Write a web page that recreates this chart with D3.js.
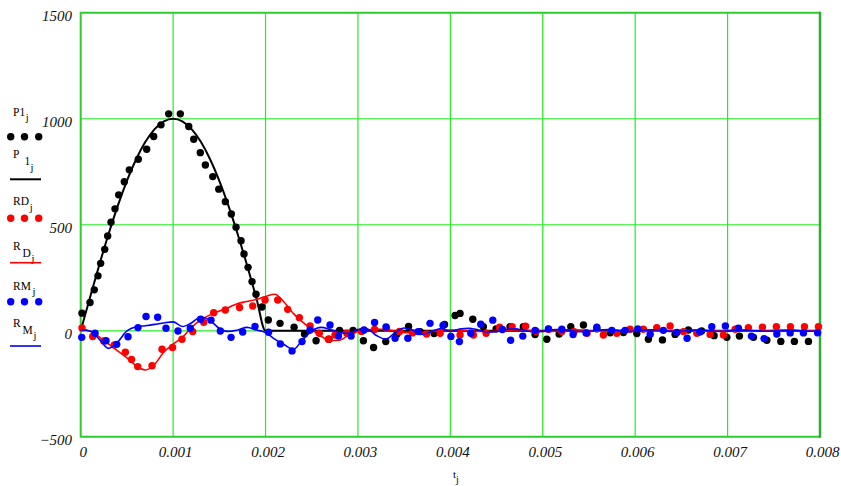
<!DOCTYPE html>
<html><head><meta charset="utf-8">
<script src="https://cdn.jsdelivr.net/npm/d3@7"></script>
<style>
html,body{margin:0;padding:0;background:#fff;}
svg{display:block;}
</style></head>
<body>
<svg id="chart" width="841" height="486"></svg>
<script>
// ---- tick labels ----
const xTicks = [0,0.001,0.002,0.003,0.004,0.005,0.006,0.007,0.008];
const xTickLabels = ["0","0.001","0.002","0.003","0.004","0.005","0.006","0.007","0.008"];
const yTicks = [-500,0,500,1000,1500];
const yTickLabels = ["\u2212500","0","500","1000","1500"];

// ---- dotted (measured) series: positions of the dots, t in s ----
const p1T = [0.000014,0.000101,0.000147,0.000187,0.000216,0.00026,0.000292,0.000328,0.000371,0.000411,0.000472,0.000526,0.000623,0.000714,0.00079,0.000869,0.000952,0.001078,0.001169,0.001223,0.001294,0.001349,0.001429,0.001494,0.001565,0.00163,0.001681,0.001735,0.001767,0.001811,0.001854,0.001897,0.001962,0.00203,0.002157,0.002309,0.002422,0.002547,0.002687,0.002801,0.002947,0.003059,0.003169,0.003301,0.003423,0.003548,0.003672,0.003824,0.003937,0.004051,0.004105,0.004243,0.004357,0.004495,0.004646,0.00479,0.004917,0.005044,0.005177,0.005303,0.00544,0.005585,0.005729,0.005873,0.006018,0.006143,0.006295,0.006432,0.006576,0.006719,0.006854,0.006992,0.007128,0.00728,0.007425,0.007576,0.007723,0.007875];
const p1V = [83,133,193,259,318,384,447,512,575,641,703,759,809,856,916,971,1023,1023,963,903,840,782,727,668,609,551,488,425,362,299,232,172,112,51,35,17,-15,-47,-40,2,2,-47,-79,-51,-15,20,-4,-13,30,72,82,54,19,9,19,19,-18,-40,-15,19,27,9,-9,-8,-13,-40,-43,-17,4,-1,-23,-31,-25,-31,-45,-50,-50,-50];

const rdT = [0.000014,0.00013,0.000249,0.000364,0.000483,0.00055,0.000617,0.000772,0.00088,0.000994,0.001096,0.001212,0.001331,0.001439,0.001565,0.001719,0.001862,0.001995,0.002132,0.00224,0.002366,0.002482,0.002582,0.00268,0.002752,0.002879,0.003039,0.00318,0.003308,0.00345,0.003591,0.003743,0.003889,0.004105,0.004249,0.004387,0.004533,0.004668,0.004814,0.004928,0.005063,0.005206,0.005339,0.00548,0.005656,0.005801,0.005945,0.006089,0.006234,0.006378,0.006522,0.006667,0.006811,0.006955,0.007082,0.007225,0.007377,0.007528,0.00768,0.007832,0.007983];
const rdV = [13,-27,-48,-67,-101,-135,-169,-165,-87,-79,-40,-4,40,85,98,110,117,145,145,101,62,23,-12,-40,-20,-12,-3,6,12,-3,-10,-15,-12,-20,-20,-12,17,19,21,-3,7,-4,-4,-12,-20,-12,7,7,15,23,-4,-12,-17,-20,7,15,17,19,19,19,19];

const rmT = [0.000011,0.000155,0.000274,0.00039,0.000512,0.00062,0.000707,0.000833,0.000923,0.001053,0.001186,0.001297,0.00141,0.001511,0.001627,0.001753,0.001886,0.002033,0.00216,0.002287,0.002395,0.002482,0.002565,0.002698,0.00279,0.002926,0.003066,0.00318,0.003304,0.003402,0.00354,0.003651,0.00378,0.003921,0.004006,0.004098,0.004221,0.004329,0.004459,0.004563,0.004652,0.004784,0.004917,0.005061,0.005206,0.005328,0.005469,0.005585,0.005747,0.005891,0.006028,0.006162,0.006305,0.006451,0.006562,0.006699,0.006829,0.006976,0.007117,0.007258,0.007395,0.007533,0.007677,0.007821,0.007974];
const rmV = [-31,-12,-47,-64,-28,15,67,64,12,-1,12,54,50,-1,-31,-6,20,-7,-62,-95,-51,4,51,27,-25,-25,4,39,18,-35,-35,-4,35,25,-27,-51,-12,31,50,6,-45,-25,1,9,7,-18,-10,17,2,2,9,-16,2,-8,-35,-6,19,23,12,-25,-37,-15,-10,-10,-9];

// ---- fitted (solid) curves, sampled every 0.0001 s ----
const fitT = d3.range(81).map(i => i * 0.0001);
const p1Fit = [0,156,309,454,588,707,809,891,951,988,1000,988,951,891,809,707,588,454,309,156,0,
  0,0,0,0,0,0,0,0,0,0,0,0,0,0,0,0,0,0,0,0,0,0,0,0,0,0,0,0,0,0,0,0,0,0,0,0,0,0,0,0,0,0,0,0,0,0,0,0,0,0,0,0,0,0,0,0,0,0,0,0];
const rdFit = [8,-1,-29,-62,-95,-128,-165,-185,-158,-100,-63,-31,16,51,75,93,110,129,138,148,162,172,136,82,42,6,-25,-47,-45,-20,-3,4,8,6,-1,-8,-9,-8,-4,3,
  4,3,0,-3,-5,-2,2,4,3,0,-3,-3,0,3,3,0,-2,-2,0,2,2,0,-2,-1,1,2,1,-1,-1,0,1,1,0,-1,0,1,1,0,0,0,0];
const rmFit = [4,-1,-39,-83,-53,-1,19,24,30,37,42,20,38,65,49,11,-3,4,16,4,-8,-39,-65,-88,-43,-1,16,6,-8,-12,6,8,-22,-39,-10,13,1,-17,-3,11,-4,
  8,12,4,-6,-4,6,9,2,-5,-3,5,7,1,-4,-3,3,6,2,-3,-2,3,5,1,-3,-2,3,4,0,-3,-1,3,3,0,-2,-1,2,3,0,-2,-1];

const colors = {p1:"#000000", rd:"#ff0000", rm:"#0000ff"};

const svg = d3.select("#chart");
const L = 80.7, R = 820, T = 12.7, B = 436.8;
const x = d3.scaleLinear().domain([0, 0.008]).range([L, R]);
const y = d3.scaleLinear().domain([-500, 1500]).range([B, T]);
const serif = "'Liberation Serif','Times New Roman',serif";

// grid
const grid = svg.append("g");
grid.selectAll("line.vx").data(xTicks.slice(1, -1)).join("line")
  .attr("x1", d => x(d)).attr("x2", d => x(d)).attr("y1", T).attr("y2", B)
  .attr("stroke", "#22ee22").attr("stroke-width", 1.2);
grid.selectAll("line.hy").data(yTicks.slice(1, -1)).join("line")
  .attr("x1", L).attr("x2", R).attr("y1", d => y(d)).attr("y2", d => y(d))
  .attr("stroke", "#22ee22").attr("stroke-width", 1.2);
// frame
svg.append("path").attr("d", `M${R},${T}H${L}V${B}H${R}`)
  .attr("fill", "none").attr("stroke", "#2fcc2f").attr("stroke-width", 2);
svg.append("line").attr("x1", R).attr("x2", R).attr("y1", T - 1).attr("y2", B + 1)
  .attr("stroke", "#33aa33").attr("stroke-width", 2.5);

// axes (labels only)
const xAxis = svg.append("g").attr("transform", `translate(2,456.5)`)
  .call(d3.axisBottom(x).tickValues(xTicks).tickSize(0).tickFormat((d, i) => xTickLabels[i]));
xAxis.select(".domain").remove();
xAxis.selectAll("text").attr("y", 0).attr("dy", null)
  .attr("font-family", serif).attr("font-style", "italic").attr("font-size", 15).attr("fill", "#111");

const yAxis = svg.append("g").attr("transform", `translate(72,7.6)`)
  .call(d3.axisLeft(y).tickValues(yTicks).tickSize(0).tickPadding(0).tickFormat((d, i) => yTickLabels[i]));
yAxis.select(".domain").remove();
yAxis.selectAll("text").attr("x", 0).attr("dy", null)
  .attr("font-family", serif).attr("font-style", "italic").attr("font-size", 15).attr("fill", "#111");

// axis title t_j
const xt = svg.append("text").attr("x", 453).attr("y", 477.5)
  .attr("font-family", serif).attr("font-size", 11).attr("fill", "#000");
xt.append("tspan").text("t");
xt.append("tspan").attr("dy", 5.5).attr("font-size", 10).text("j");

// data
const line = d3.line().x(d => x(d[0])).y(d => y(d[1])).curve(d3.curveMonotoneX);
const layers = [
  {t: p1T, v: p1V, fit: p1Fit, c: colors.p1, w: 2},
  {t: rdT, v: rdV, fit: rdFit, c: colors.rd, w: 1.6},
  {t: rmT, v: rmV, fit: rmFit, c: colors.rm, w: 1.6}
];
layers.forEach(s => {
  svg.append("g").selectAll("circle").data(d3.zip(s.t, s.v)).join("circle")
    .attr("cx", d => x(d[0])).attr("cy", d => y(d[1])).attr("r", 3.7).attr("fill", s.c);
  svg.append("path").datum(d3.zip(fitT, s.fit)).attr("d", line)
    .attr("fill", "none").attr("stroke", s.c).attr("stroke-width", s.w);
});

// legend
const lg = svg.append("g").attr("font-family", serif).attr("fill", "#000");
function label(parts) {
  const t = lg.append("text").attr("font-size", 11.5);
  parts.forEach(p => {
    const ts = t.append("tspan").attr("x", p.x).attr("y", p.y).text(p.s);
    if (p.f) ts.attr("font-size", p.f);
  });
}
label([{s:"P1", x:13, y:115.5}, {s:"j", x:25.8, y:121, f:10.5}]);
label([{s:"P", x:13, y:158}, {s:"1", x:24.5, y:165}, {s:"j", x:30.5, y:170.5, f:10.5}]);
label([{s:"RD", x:13, y:205.3}, {s:"j", x:29.8, y:211, f:10.5}]);
label([{s:"R", x:13, y:249.5}, {s:"D", x:22.5, y:256.5}, {s:"j", x:31.5, y:261.5, f:10.5}]);
label([{s:"RM", x:13, y:289.5}, {s:"j", x:32.5, y:295, f:10.5}]);
label([{s:"R", x:13, y:326.5}, {s:"M", x:22.5, y:333.5}, {s:"j", x:33.5, y:339, f:10.5}]);

const legendRows = [
  {c: colors.p1, dotY: 136.7, lineY: 179.3, w: 2},
  {c: colors.rd, dotY: 218.3, lineY: 262.7, w: 1.6},
  {c: colors.rm, dotY: 301.7, lineY: 346, w: 1.6}
];
legendRows.forEach(r => {
  lg.append("g").selectAll("circle").data([10.7, 24.5, 38.7]).join("circle")
    .attr("cx", d => d).attr("cy", r.dotY).attr("r", 3.7).attr("fill", r.c);
  lg.append("line").attr("x1", 10).attr("x2", 41).attr("y1", r.lineY).attr("y2", r.lineY)
    .attr("stroke", r.c).attr("stroke-width", r.w);
});
</script>
</body></html>
